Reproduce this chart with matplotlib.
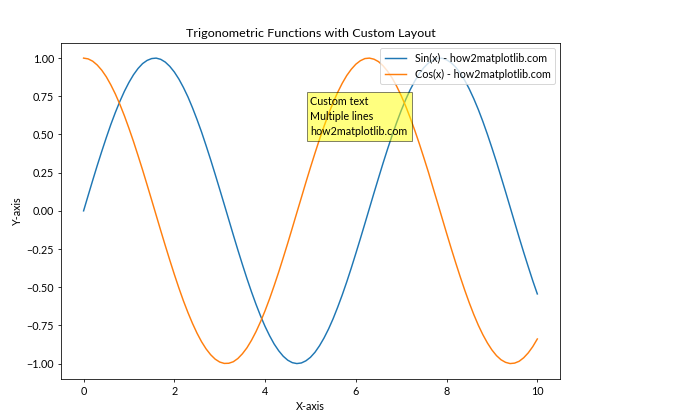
import matplotlib
matplotlib.use("Agg")
import matplotlib.pyplot as plt

plt.rcParams['font.family'] = ['Lato', 'DejaVu Sans']
plt.rcParams['font.size'] = 11

x = [0.0, 0.1, 0.2, 0.3, 0.4, 0.5, 0.6, 0.7, 0.8, 0.9,
     1.0, 1.1, 1.2, 1.3, 1.4, 1.5, 1.6, 1.7, 1.8, 1.9,
     2.0, 2.1, 2.2, 2.3, 2.4, 2.5, 2.6, 2.7, 2.8, 2.9,
     3.0, 3.1, 3.2, 3.3, 3.4, 3.5, 3.6, 3.7, 3.8, 3.9,
     4.0, 4.1, 4.2, 4.3, 4.4, 4.5, 4.6, 4.7, 4.8, 4.9,
     5.0, 5.1, 5.2, 5.3, 5.4, 5.5, 5.6, 5.7, 5.8, 5.9,
     6.0, 6.1, 6.2, 6.3, 6.4, 6.5, 6.6, 6.7, 6.8, 6.9,
     7.0, 7.1, 7.2, 7.3, 7.4, 7.5, 7.6, 7.7, 7.8, 7.9,
     8.0, 8.1, 8.2, 8.3, 8.4, 8.5, 8.6, 8.7, 8.8, 8.9,
     9.0, 9.1, 9.2, 9.3, 9.4, 9.5, 9.6, 9.7, 9.8, 9.9,
     10.0]
sin_y = [0.000, 0.100, 0.199, 0.296, 0.389, 0.479, 0.565, 0.644, 0.717, 0.783,
         0.841, 0.891, 0.932, 0.964, 0.985, 0.997, 1.000, 0.992, 0.974, 0.946,
         0.909, 0.863, 0.808, 0.746, 0.675, 0.598, 0.516, 0.427, 0.335, 0.239,
         0.141, 0.042, -0.058, -0.158, -0.256, -0.351, -0.443, -0.530, -0.612, -0.688,
         -0.757, -0.818, -0.872, -0.916, -0.952, -0.978, -0.994, -1.000, -0.996, -0.982,
         -0.959, -0.926, -0.883, -0.832, -0.773, -0.706, -0.631, -0.551, -0.465, -0.374,
         -0.279, -0.182, -0.083, 0.017, 0.117, 0.215, 0.312, 0.405, 0.494, 0.578,
         0.657, 0.729, 0.794, 0.850, 0.899, 0.938, 0.968, 0.988, 0.999, 0.999,
         0.989, 0.970, 0.941, 0.902, 0.855, 0.798, 0.734, 0.663, 0.585, 0.501,
         0.412, 0.320, 0.223, 0.125, 0.025, -0.075, -0.175, -0.272, -0.366, -0.458,
         -0.544]
cos_y = [1.000, 0.995, 0.980, 0.955, 0.921, 0.878, 0.825, 0.765, 0.697, 0.622,
         0.540, 0.454, 0.362, 0.268, 0.170, 0.071, -0.029, -0.129, -0.227, -0.323,
         -0.416, -0.505, -0.589, -0.666, -0.737, -0.801, -0.857, -0.904, -0.942, -0.971,
         -0.990, -0.999, -0.998, -0.988, -0.967, -0.936, -0.897, -0.848, -0.791, -0.726,
         -0.654, -0.575, -0.490, -0.401, -0.307, -0.211, -0.112, -0.012, 0.087, 0.187,
         0.284, 0.378, 0.469, 0.554, 0.635, 0.709, 0.776, 0.835, 0.886, 0.927,
         0.960, 0.983, 0.997, 1.000, 0.993, 0.977, 0.950, 0.914, 0.870, 0.816,
         0.754, 0.685, 0.608, 0.526, 0.439, 0.347, 0.253, 0.153, 0.054, -0.046,
         -0.146, -0.244, -0.339, -0.431, -0.519, -0.602, -0.679, -0.749, -0.811, -0.865,
         -0.911, -0.948, -0.975, -0.992, -1.000, -0.997, -0.985, -0.962, -0.930, -0.889,
         -0.839]

fig, ax = plt.subplots(figsize=(10, 6), dpi=70)
fig.subplots_adjust(left=0.087, right=0.8, top=0.898, bottom=0.098)

ax.plot(x, sin_y, label='Sin(x) - how2matplotlib.com')
ax.plot(x, cos_y, label='Cos(x) - how2matplotlib.com')

ax.set_title('Trigonometric Functions with Custom Layout', fontsize=12.8)
ax.set_xlabel('X-axis')
ax.set_ylabel('Y-axis')
ax.legend(loc='upper right')

ax.text(0.5, 0.842, 'Custom text\nMultiple lines\nhow2matplotlib.com',
        transform=ax.transAxes, va='top', linespacing=1.45,
        bbox=dict(facecolor='yellow', alpha=0.5))

fig.savefig('out.png', dpi=70)
